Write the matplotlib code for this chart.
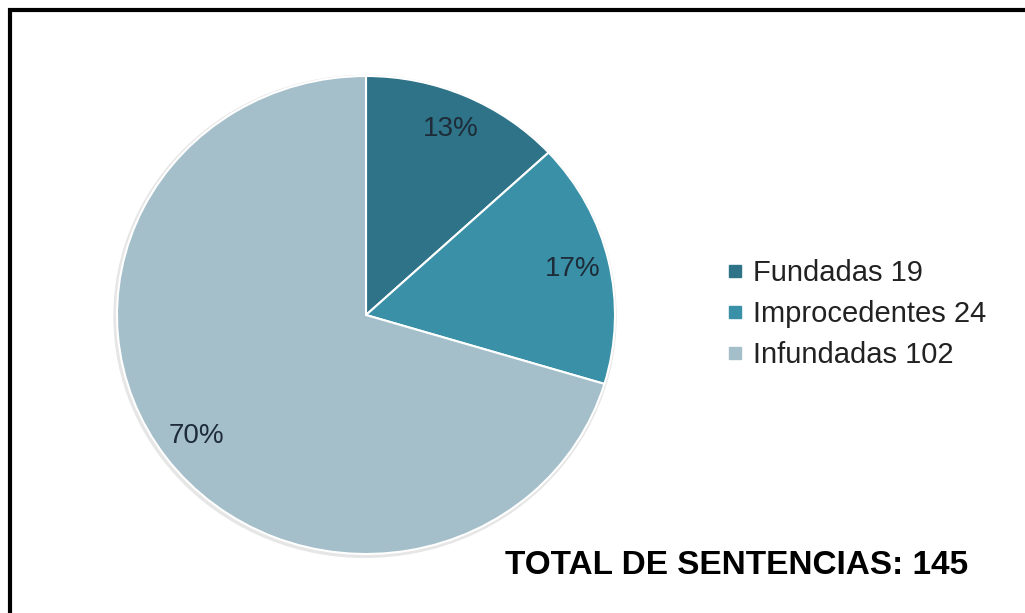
import matplotlib.pyplot as plt
from matplotlib.lines import Line2D
from matplotlib.patches import Ellipse, Rectangle

plt.rcParams['font.family'] = ['Liberation Sans', 'DejaVu Sans']

# sentencias por tipo
categorias = ['Fundadas', 'Improcedentes', 'Infundadas']
sentencias = [19, 24, 102]
colores = ['#2F7388', '#3A90A6', '#A4BFCA']
total = sum(sentencias)

W, H = 1025, 613
fig = plt.figure(figsize=(W / 100, H / 100), dpi=100)

# pie area in pixels: centre (366, 315), radii 249 x 239 (slightly wide)
cx, cy, rx, ry = 366, 315, 249, 239
pad = 1.1
ax = fig.add_axes([(cx - pad * rx) / W, (H - cy - pad * ry) / H,
                   2 * pad * rx / W, 2 * pad * ry / H])

# soft shadow under the pie
ax.add_patch(Ellipse((-0.004, -0.006), 2.016, 2.016, color='#e6e6e6', zorder=0))

wedges, texts, autotexts = ax.pie(
    sentencias, colors=colores, startangle=90, counterclock=False,
    autopct='%1.0f%%', pctdistance=0.85,
    wedgeprops=dict(edgecolor='white', linewidth=1.5),
    textprops=dict(fontsize=20, color='#1D2C38'))
ax.set_aspect('auto')
ax.set_xlim(-pad, pad)
ax.set_ylim(-pad, pad)

# legend
handles = [Line2D([], [], linestyle='none', marker='s', markersize=9,
                  markerfacecolor=c, markeredgecolor=c) for c in colores]
etiquetas = [f'{c} {n}' for c, n in zip(categorias, sentencias)]
fig.legend(handles, etiquetas, loc='center left',
           bbox_to_anchor=(727 / W, 1 - 314 / H), frameon=False,
           fontsize=21, handlelength=0.55, handletextpad=0.35,
           labelspacing=0.45, borderpad=0, borderaxespad=0,
           labelcolor='#222222')

fig.text(737 / W, 1 - 565 / H, f'TOTAL DE SENTENCIAS: {total}',
         ha='center', va='center', fontsize=24, fontweight='bold',
         color='black')

# black frame (top and left edges visible)
fig.add_artist(Rectangle((10 / W, -0.2), 1.2, (H - 10) / H + 0.2,
                         transform=fig.transFigure, fill=False,
                         edgecolor='black', linewidth=3))

plt.savefig('out.png', dpi=100, facecolor='white')
